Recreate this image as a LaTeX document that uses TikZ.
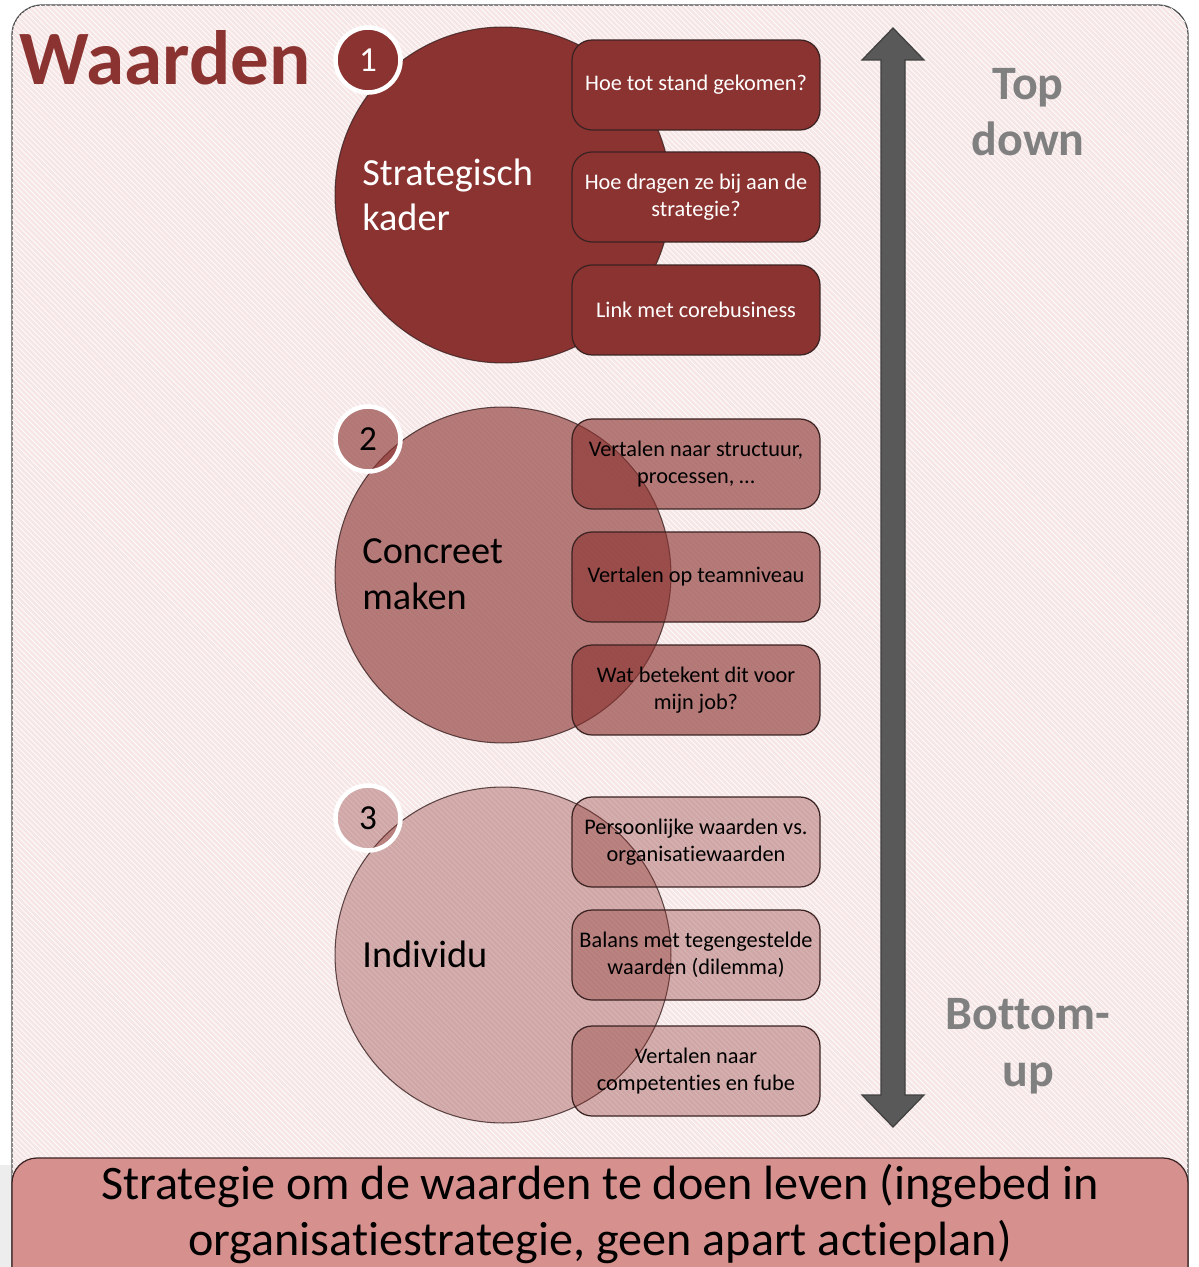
\documentclass[tikz,border=0pt]{standalone}
\usepackage{fontspec}
\setmainfont{Carlito}[Ligatures=NoCommon]
\usetikzlibrary{positioning, patterns, calc}
\definecolor{wine}{HTML}{8B3330}
\definecolor{blush}{HTML}{F6E6E6}
\definecolor{bannerred}{HTML}{D6918F}
\definecolor{arrowgray}{HTML}{595959}
\definecolor{labelgray}{HTML}{808080}
\definecolor{edgedark}{HTML}{3A2222}
\tikzset{
  % big level circles -- usage: \node[level=0.6] ...
  level/.style={circle, draw=edgedark, line width=0.6pt, fill=wine,
                fill opacity=#1, draw opacity=0.8, text opacity=1,
                minimum size=6.72cm, inner sep=0pt},
  % level captions inside the circles
  leveltext/.style={anchor=west, align=left, inner sep=0pt,
                    font=\fontsize{21.8}{26}\selectfont},
  % numbered badges
  badge/.style={circle, draw=white, line width=2.6pt, fill=wine,
                fill opacity=#1, text opacity=1, minimum size=1.3cm,
                inner sep=0pt, font=\fontsize{20}{24}\selectfont},
  % rounded question boxes -- usage: \node[qbox=0.6] ...
  qbox/.style={rectangle, rounded corners=0.4cm, draw=edgedark,
               line width=0.7pt, fill=wine, fill opacity=#1, text opacity=1,
               minimum width=4.96cm, minimum height=1.8cm, align=center,
               font=\fontsize{12.7}{15.3}\selectfont},
  % grey side labels
  sidelabel/.style={text=labelgray, align=center,
                    font=\fontsize{27.3}{32.3}\selectfont\bfseries},
  bigarrow/.style={fill=arrowgray, draw=black!75, line width=0.7pt},
}
\begin{document}
\begin{tikzpicture}[x=0.02cm, y=-0.02cm]

\clip (0,0) rectangle (1198,1267);

% ── Background panel ────────────────────────────────────────────────────────
\fill[white] (0,0) rectangle (1198,1267);
\fill[black!7] (0,1165) rectangle (11,1267);
\filldraw[fill=blush, draw=black!70, line width=0.7pt, rounded corners=0.6cm]
  (12,5) rectangle (1188,1320);
\fill[pattern=north west lines, pattern color=white, rounded corners=0.6cm]
  (12,5) rectangle (1188,1320);

% ── Title ───────────────────────────────────────────────────────────────────
\node[text=wine, font=\fontsize{43.8}{50}\selectfont\bfseries, inner sep=0pt]
  (title) at (165,58) {Waarden};

% ── Level 1: Strategisch kader ──────────────────────────────────────────────
\node[level=1]   (circ1) at (503,195) {};
\node[leveltext, text=white] (cap1) at (362,195) {Strategisch\\kader};
\node[qbox=1, text=white] (box11) at (696,85)  {Hoe tot stand gekomen?};
\node[qbox=1, text=white] (box12) at (696,197) {Hoe dragen ze bij aan de\\strategie?};
\node[qbox=1, text=white] (box13) at (696,310) {Link met corebusiness};
\node[badge=1, text=white] (badge1) at (368,60) {1};

% ── Level 2: Concreet maken ─────────────────────────────────────────────────
\node[level=0.62] (circ2) at (503,575) {};
\node[leveltext]  (cap2)  at (362,574) {Concreet\\maken};
\node[qbox=0.62]  (box21) at (696,464) {Vertalen naar structuur,\\processen, \dots};
\node[qbox=0.62]  (box22) at (696,577) {Vertalen op teamniveau};
\node[qbox=0.62]  (box23) at (696,690) {Wat betekent dit voor\\mijn job?};
\node[badge=0.62] (badge2) at (368,439) {2};

% ── Level 3: Individu ───────────────────────────────────────────────────────
\node[level=0.35] (circ3) at (503,955) {};
\node[leveltext]  (cap3)  at (362,954) {Individu};
\node[qbox=0.35]  (box31) at (696,842)  {Persoonlijke waarden vs.\\organisatiewaarden};
\node[qbox=0.35]  (box32) at (696,955)  {Balans met tegengestelde\\waarden (dilemma)};
\node[qbox=0.35]  (box33) at (696,1071) {Vertalen naar\\competenties en fube};
\node[badge=0.35] (badge3) at (368,818) {3};

% ── Double arrow ────────────────────────────────────────────────────────────
\coordinate (uptip)   at (893,28);
\coordinate (downtip) at (893,1127);
\filldraw[bigarrow] (uptip) -- ++(31,32) -- ++(-19,0)
  -- ($(downtip)+(12,-32)$) -- ++(19,0) -- (downtip) -- ++(-31,-32)
  -- ++(19,0) -- ($(uptip)+(-12,32)$) -- ++(-19,0) -- cycle;

\node[sidelabel] (topdown)  at (1028,112)  {Top\\down};
\node[sidelabel] (bottomup) at (1028,1046) {Bottom-\\up};

% ── Bottom banner ───────────────────────────────────────────────────────────
\filldraw[fill=bannerred, draw=edgedark, line width=0.7pt, rounded corners=0.5cm]
  (12,1158) rectangle (1188,1320);
\node[align=center, font=\fontsize{27.4}{32.3}\selectfont] (banner) at (600,1214)
  {Strategie om de waarden te doen leven (ingebed in\\organisatiestrategie, geen apart actieplan)};

\end{tikzpicture}
\end{document}
